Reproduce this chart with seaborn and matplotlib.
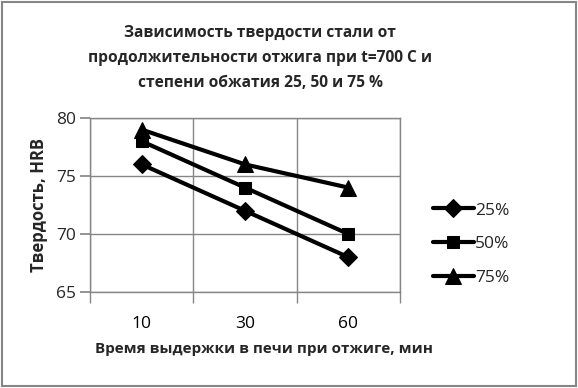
import matplotlib
matplotlib.use("Agg")
import matplotlib.pyplot as plt
import seaborn as sns
import pandas as pd
from matplotlib.patches import Rectangle

times = ["10", "30", "60"]
series_names = ["25%", "50%", "75%"]
hrb_25 = [76, 72, 68]
hrb_50 = [78, 74, 70]
hrb_75 = [79, 76, 74]
y_ticks = [65, 70, 75, 80]

title = "Зависимость твердости стали от\nпродолжительности отжига при t=700 С и\nстепени обжатия 25, 50 и 75 %"
xlabel = "Время выдержки в печи при отжиге, мин"
ylabel = "Твердость, HRB"

rows = []
for name, vals in zip(series_names, [hrb_25, hrb_50, hrb_75]):
    for t, v in zip(times, vals):
        rows.append({"t": times.index(t), "hrb": v, "series": name})
df = pd.DataFrame(rows)

sns.set_theme(style="white")
plt.rcParams["font.family"] = ["Open Sans", "DejaVu Sans"]

fig = plt.figure(figsize=(5.78, 3.88), dpi=100)
ax = fig.add_axes([90/578, 1-292/388, 310/578, 174/388])

sns.lineplot(data=df, x="t", y="hrb", hue="series", style="series",
             palette=["black"]*3, markers={"25%": "D", "50%": "s", "75%": "^"},
             dashes=False, linewidth=3, markersize=9, markeredgecolor="black",
             ax=ax, legend=True)
msizes = {"25%": 9, "50%": 9, "75%": 11.5}
for line, name in zip(ax.lines, series_names):
    line.set_markersize(msizes[name])

ax.set_xlim(-0.5, 2.5)
ax.set_ylim(65, 80)
ax.set_yticks(y_ticks)
ax.set_xticks(range(len(times)))
ax.set_xticklabels(times)
ax.set_xticks([-0.5, 0.5, 1.5, 2.5], minor=True)
gc = "#868686"
ax.grid(which="major", axis="y", color=gc, linewidth=1)
ax.grid(which="minor", axis="x", color=gc, linewidth=1)
ax.grid(which="major", axis="x", visible=False)
for s in ax.spines.values():
    s.set_color(gc)
    s.set_linewidth(1)
ax.tick_params(axis="x", which="major", length=0, labelsize=12.5, pad=17, colors="black")
ax.tick_params(axis="x", which="minor", length=8, color=gc, direction="out", bottom=True)
ax.tick_params(axis="y", which="major", length=7, color=gc, direction="out", left=True, labelsize=12.5, pad=3)
ax.set_xlabel(xlabel, fontsize=11, fontweight="bold")
ax.xaxis.set_label_coords((264 - 90) / 310, -(349 - 292) / 174)
ax.xaxis.label.set_va("center")
ax.set_ylabel(ylabel, fontsize=12, fontweight="bold", labelpad=6)

fig.text(260/578, 1 - 58/388, title, ha="center", va="center",
         fontsize=11.2, fontweight="bold", linespacing=1.78)

h, l = ax.get_legend_handles_labels()
for hh, name in zip(h, l):
    hh.set_markersize(msizes[name])
ax.legend(h, l, loc="center left", bbox_to_anchor=(417/578, 1-244/388),
          bbox_transform=fig.transFigure, frameon=False, fontsize=12.5,
          handlelength=2.4, handletextpad=0.05, labelspacing=1.0)

fig.patches.append(Rectangle((0.004, 0.005), 0.992, 0.99, transform=fig.transFigure,
                             fill=False, edgecolor="#868686", linewidth=1.5))

fig.savefig("out.png", dpi=100, facecolor="white")
